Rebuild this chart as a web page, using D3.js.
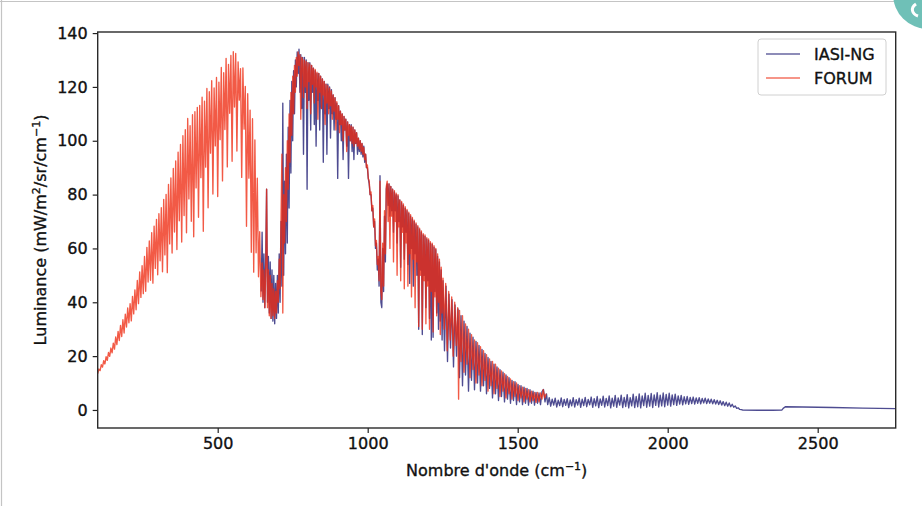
<!DOCTYPE html>
<html>
<head>
<meta charset="utf-8">
<style>
    body { margin: 0; background: #fff; }
    text { font-family: "DejaVu Sans", sans-serif; fill: #111; stroke: #111; stroke-width: 0.35px; }
    .tick line { stroke: #222; }
</style>
<script src="https://d3js.org/d3.v7.min.js"></script>
</head>
<body>
<script>

    // spectra: [wavenumber cm-1, luminance mW/m2/sr/cm-1]
    var forumFIR = [
      [100,13.5],[104,15.2],[108,14.6],[112,16.8],[116,15.9],[120,18.3],[124,17.1],[128,19.8],[132,18.4],[136,21.4],
      [140,19.9],[144,23],[148,21.2],[152,24.8],[156,22.6],[160,27.1],[164,24.3],[168,29.2],[172,25.8],[176,31.4],
      [180,27.3],[184,33.5],[188,28.6],[192,35.6],[196,30.8],[200,37.9],[204,32.4],[208,39.5],[212,33.1],[216,42.2],
      [220,35.7],[224,44.6],[228,37.2],[232,48.1],[236,39.5],[240,51.3],[244,41.8],[248,53.6],[252,43.2],[256,57],
      [260,44.1],[264,60.4],[268,47.5],[272,62.8],[276,48.2],[280,65.9],[284,47.1],[288,68.3],[292,52.6],[296,70.8],
      [300,50.2],[304,72.9],[308,55.4],[312,75.1],[316,51.3],[320,78.2],[324,57.6],[328,80.1],[332,51],[336,83.8],
      [340,61.7],[344,86.2],[348,58.3],[352,89.7],[356,66.1],[360,92.5],[364,59.6],[368,95.8],[372,70.3],[376,98.6],
      [380,62.4],[384,101.9],[388,72.2],[392,104.1],[396,65.8],[400,108.3],[404,78.4],[408,105.6],[412,70.1],[416,109.7],
      [420,64.3],[424,110.8],[428,82.5],[432,112.4],[436,71.6],[440,113.1],[444,86.3],[448,116.2],[452,66.4],[456,114.7],
      [460,90.2],[464,119.4],[468,75.1],[472,118.2],[476,95.4],[480,122.3],[484,80.2],[488,119.6],[492,98.1],[496,123.5],
      [500,79.3],[504,121.8],[508,100.4],[512,127.2],[516,85.1],[520,125.3],[524,104.2],[528,130.6],[532,90.3],[536,128.4],
      [540,110.2],[544,131.7],[548,92.4],[552,133.1],[556,112.5],[560,132.4],[564,96.2],[568,129.3],[572,115.1],[576,126.8],
      [580,86.4],[584,127.1],[588,104.3],[592,120.2],[596,68.2],[600,117.5],[604,86.1],[608,111.4],[612,58.6],[616,108.2],
      [620,51.2],[624,100.3],[628,58.4],[632,86.1],[636,49.5],[640,66.2],[644,42.1],[648,54.6]
    ];

    var forumCO2 = [
      [651,41],[654,52],[657,38],[660,50],[663,82],[666,38],[669,52],[672,35],[675,50],[678,34],
      [681,47],[684,35],[687,45],[690,34],[693,44],[696,36],[699,48],[702,40],[705,56],[708,45],
      [711,70],[714,95],[717,36],[720,80],[723,62],[726,90],[729,70],[732,100],[735,82],[738,110],
      [741,92],[744,118],[747,102],[750,124],[753,110],[756,128],[759,118],[762,131],[765,124],[768,133],
      [771,128],[774,132],[777,108],[780,131],[783,130],[786,116],[789,130],[792,120],[795,129.5],[798,112],
      [801,129],[804,122],[807,128.5],[810,110],[813,128],[816,121],[819,127],[822,114],[825,126.5],[828,120],
      [831,125.5],[834,108],[837,125],[840,118],[843,124],[846,112],[849,123],[852,117],[855,122],[858,106],
      [861,121],[864,114],[867,120.5],[870,110],[873,119.5],[876,113],[879,118.5],[882,108],[885,117],[888,111],
      [891,116],[894,104],[897,114.5],[900,108],[903,113],[906,103],[909,111],[912,106],[915,110],[918,100],
      [921,109],[924,104],[927,108],[930,96],[933,107],[936,102],[939,106],[942,100],[945,105.5],[948,99],
      [951,105],[954,98],[957,104],[960,99],[963,103],[966,98],[969,101],[972,97],[975,100],[978,96],
      [981,99],[984,95],[987,97.5],[990,93],[993,95],[996,90],[999,91],[1002,86],[1005,85],[1008,80],
      [1011,81],[1014,74],[1017,76],[1020,68],[1023,71],[1026,61],[1029,63],[1032,54],[1035,57],[1038,48],
      [1041,85],[1044,44],[1047,41],[1050,62],[1053,46],[1056,74],[1059,58],[1062,83],[1065,85]
    ];

    var forumH2O = [
      [1068,70],[1071,84],[1074,60],[1077,83],[1080,72],[1083,82],[1086,55],[1089,81.5],[1092,70],[1095,80.5],
      [1098,50],[1101,80],[1104,68],[1107,78],[1110,48],[1113,77.5],[1116,66],[1119,76.5],[1122,45],[1125,75.5],
      [1128,62],[1131,74.5],[1134,46],[1137,73.5],[1140,58],[1143,72.5],[1146,42],[1149,71.5],[1152,56],[1155,70.5],
      [1158,38],[1161,69.5],[1164,55],[1167,68.5],[1170,31],[1173,67.5],[1176,50],[1179,66.5],[1182,30],[1185,65.5],
      [1188,48],[1191,65],[1194,32],[1197,64],[1200,46],[1203,63.5],[1206,30],[1209,62.5],[1212,44],[1215,62],
      [1218,29],[1221,61],[1224,42],[1227,60],[1230,35],[1233,58],[1236,40],[1239,56],[1242,28],[1245,53],
      [1248,36],[1251,49],[1255,30],[1260,47],[1265,22],[1270,44],[1275,26],[1280,42],[1285,20],[1290,40],
      [1295,24],[1300,38],[1303,4],[1306,37],[1311,18],[1316,35],[1321,14],[1326,32],[1331,17],[1336,30],
      [1341,12],[1346,28],[1351,15],[1356,26],[1361,10],[1366,25],[1371,13],[1376,23.5],[1381,9],[1386,22],
      [1391,11],[1396,20.5],[1401,7],[1406,19],[1411,9],[1416,18],[1421,6],[1426,17],[1431,8],[1436,15.5],
      [1441,5],[1446,14.5],[1451,7],[1456,13.5],[1461,4.5],[1466,12.5],[1471,6],[1476,11.5],[1481,4],[1486,10.5],
      [1491,5],[1496,10],[1501,3.5],[1506,9],[1511,4.5],[1516,8.5],[1521,3],[1526,8],[1531,4],[1536,7.5],
      [1541,3],[1546,7],[1551,3.5],[1556,6.5],[1561,2.8],[1566,6.5],[1571,3],[1576,6.3],[1581,4],[1585,7.5],
      [1590,4.5],[1595,6]
    ];

    var iasiCO2 = [
      [645,44],[648,66],[651,40],[654,58],[657,38],[660,56],[663,82],[666,40],[669,57],[672,36],
      [675,55],[678,34],[681,52],[684,33],[687,50],[690,32],[693,47],[696,34],[699,50],[702,36],
      [705,58],[708,40],[711,70],[714,46],[717,114],[720,50],[723,85],[726,58],[729,95],[732,62],
      [735,105],[738,75],[741,115],[744,88],[747,122],[750,100],[753,126],[756,110],[759,130],[762,120],
      [765,133],[768,125],[771,134],[774,118],[777,132],[780,112],[783,131],[786,95],[789,131],[792,118],
      [795,130],[798,82],[801,129],[804,115],[807,129],[810,104],[813,128],[816,118],[819,127],[822,106],
      [825,126],[828,98],[831,125],[834,115],[837,125],[840,104],[843,124],[846,112],[849,123],[852,92],
      [855,122],[858,110],[861,121],[864,95],[867,121],[870,112],[873,120],[876,101],[879,119],[882,110],
      [885,117],[888,104],[891,116],[894,108],[897,114],[900,86],[903,113],[906,106],[909,111],[912,100],
      [915,110],[918,93],[921,109],[924,104],[927,108],[930,98],[933,107],[936,86],[939,106],[942,100],
      [945,106],[948,96],[951,105],[954,93],[957,104],[960,99],[963,103],[966,95],[969,101],[972,96],
      [975,100],[978,95],[981,99],[984,94],[987,98],[990,92],[993,95],[996,90],[999,90],[1002,86],
      [1005,84],[1008,80],[1011,80],[1014,74],[1017,75],[1020,68],[1023,70],[1026,60],[1029,62],[1032,52],
      [1035,56],[1038,46],[1041,87],[1044,40],[1047,38],[1050,60],[1053,44],[1056,72],[1059,55],[1062,82],
      [1065,84]
    ];

    var iasiH2O = [
      [1068,76],[1071,84],[1074,72],[1077,83],[1080,74],[1083,82],[1086,66],[1089,81],[1092,74],[1095,80],
      [1098,62],[1101,79.5],[1104,70],[1107,78],[1110,53],[1113,77],[1116,68],[1119,76],[1122,56],[1125,75],
      [1128,66],[1131,74],[1134,54],[1137,73],[1140,47],[1143,72],[1146,60],[1149,71],[1152,46],[1155,70],
      [1158,58],[1161,69],[1164,50],[1167,68],[1170,30],[1173,67],[1176,52],[1179,66],[1182,28],[1185,65],
      [1188,50],[1191,64.5],[1194,38],[1197,63.5],[1200,48],[1203,63],[1206,34],[1209,62],[1212,26],[1215,61.5],
      [1218,27],[1221,60.5],[1224,44],[1227,59.5],[1230,36],[1233,57],[1236,30],[1239,55],[1242,33],[1245,52],
      [1248,26],[1251,48],[1256,22],[1261,46],[1266,18],[1271,43],[1276,23],[1281,41],[1286,16],[1291,39],
      [1296,20],[1301,37.5],[1306,12],[1311,35],[1316,9],[1321,33],[1326,13],[1331,31],[1336,7],[1341,28.5],
      [1346,11],[1351,27],[1356,7.5],[1361,25.5],[1366,10],[1371,24],[1376,7],[1381,22.5],[1386,9],[1391,21],
      [1396,6],[1401,19.5],[1406,8],[1411,18],[1416,4.5],[1421,17],[1426,6],[1431,16],[1436,3.5],[1441,15],
      [1446,5],[1451,14],[1456,3],[1461,13],[1466,4],[1471,12],[1476,2.5],[1481,11],[1486,3.5],[1491,10.5],
      [1496,2],[1501,9.5],[1506,3],[1511,9],[1516,2],[1521,8.5],[1526,2.5],[1531,8],[1536,1.8],[1541,7.5],
      [1546,2.5],[1551,7],[1556,1.8],[1561,6.5],[1566,2.5],[1571,6.3],[1576,2],[1581,6.8],[1586,7.6],[1591,3],
      [1596,6]
    ];

    var iasiSW = [
      [1600,2],[1605,4.6],[1610,1.4],[1615,4],[1620,1.8],[1625,4.4],[1630,1.1],[1635,3.6],[1640,1.6],[1645,4.5],
      [1650,1.2],[1655,3.9],[1660,1.7],[1665,4.2],[1670,0.9],[1675,3.7],[1680,1.5],[1685,4.6],[1690,1.1],[1695,3.8],
      [1700,1.8],[1705,4.4],[1710,1],[1715,4],[1720,1.6],[1725,4.7],[1730,1.2],[1735,3.9],[1740,1.9],[1745,4.8],
      [1750,1],[1755,4.2],[1760,1.5],[1765,5],[1770,0.9],[1775,4.1],[1780,1.7],[1785,5.1],[1790,1.1],[1795,4.3],
      [1800,1.6],[1805,5.2],[1810,0.8],[1815,4.4],[1820,1.4],[1825,5.4],[1830,1],[1835,4.5],[1840,1.8],[1845,5.5],
      [1850,0.9],[1855,4.7],[1860,1.3],[1865,5.7],[1870,0.8],[1875,4.6],[1880,1.5],[1885,5.9],[1890,0.9],[1895,5],
      [1900,1.2],[1905,6],[1910,0.8],[1915,5.2],[1920,1.6],[1925,6.2],[1930,1],[1935,5.4],[1940,1.4],[1945,6.1],
      [1950,0.9],[1955,5.6],[1960,1.7],[1965,6.4],[1970,1.1],[1975,5.5],[1980,1.5],[1985,6.3],[1990,1.2],[1995,5.8],
      [2000,1.8],[2005,6.2],[2010,1.4],[2015,5.6],[2020,2],[2025,5.9],[2030,1.7],[2035,5.2],[2040,2.2],[2045,5.4],
      [2050,1.9],[2055,4.9],[2060,2.3],[2065,5],[2070,2.1],[2075,4.7],[2080,2.4],[2085,4.8],[2090,2.2],[2095,4.5],
      [2100,2.5],[2105,4.6],[2110,2.3],[2115,4.3],[2120,2.6],[2125,4.4],[2130,2.4],[2135,4.1],[2140,2.5],[2145,4],
      [2150,2.3],[2155,3.8],[2160,2.2],[2165,3.6],[2170,2],[2175,3.4],[2180,1.8],[2185,3.1],[2190,1.6],[2195,2.9],
      [2200,1.4],[2205,2.6],[2210,1.2],[2215,2.1],[2220,1],[2225,1.5],[2230,0.6],[2235,0.8],[2240,0.2],[2245,0.1],
      [2250,0],[2300,-0.1],[2350,-0.1],[2381,0],[2385,0.6],[2392,1.2],[2450,1.1],[2550,0.9],[2650,0.7],[2760,0.5]
    ];

    var seriesNames = ["IASI-NG", "FORUM"];
    var seriesColors = ["#1c1a72", "#ee2c12"];
    var xTicks = [500, 1000, 1500, 2000, 2500];
    var yTicks = [0, 20, 40, 60, 80, 100, 120, 140];

    var iasi = iasiCO2.concat(iasiH2O, iasiSW);
    var forum = forumFIR.concat(forumCO2, forumH2O);

    var width = 922, height = 506;
    var margin = {left: 97.7, right: 26.3, top: 32, bottom: 78};

    var svg = d3.select("body").append("svg")
        .attr("width", width)
        .attr("height", height);

    // page frame and corner badge from the magazine scan
    svg.append("line").attr("x1", 0).attr("x2", 900).attr("y1", 1.5).attr("y2", 1.5)
        .attr("stroke", "#c4c4c4").attr("stroke-width", 1.2);
    svg.append("line").attr("x1", 1.5).attr("x2", 1.5).attr("y1", 0).attr("y2", height)
        .attr("stroke", "#c4c4c4").attr("stroke-width", 1.2);
    svg.append("circle").attr("cx", 928).attr("cy", -6).attr("r", 35).attr("fill", "#6fc0b7");
    svg.append("path").attr("d", "M916,4 C910,8 912,14 918,16")
        .attr("fill", "none").attr("stroke", "#fff").attr("stroke-width", 3);

    var x = d3.scaleLinear().domain([100, 2760]).range([margin.left, width - margin.right]);
    var y = d3.scaleLinear().domain([-6.7, 140.4]).range([height - margin.bottom, margin.top]);

    var line = d3.line()
        .x(function(d) { return x(d[0]); })
        .y(function(d) { return y(d[1]); });

    var plot = svg.append("g");

    [iasi, forum].forEach(function(s, i) {
        plot.append("path")
          .datum(s)
          .attr("d", line)
          .attr("fill", "none")
          .attr("stroke", seriesColors[i])
          .attr("stroke-opacity", 0.78)
          .attr("stroke-width", 1.35)
          .attr("stroke-linejoin", "round");
    });

    // axes
    var xAxis = svg.append("g")
        .attr("transform", "translate(0," + (height - margin.bottom) + ")")
        .call(d3.axisBottom(x).tickValues(xTicks).tickSize(5).tickPadding(5).tickFormat(d3.format("d")));
    var yAxis = svg.append("g")
        .attr("transform", "translate(" + margin.left + ",0)")
        .call(d3.axisLeft(y).tickValues(yTicks).tickSize(5).tickPadding(5).tickFormat(d3.format("d")));
    xAxis.select(".domain").remove();
    yAxis.select(".domain").remove();
    svg.selectAll(".tick text").style("font-size", "16px").attr("fill", "#111");
    svg.selectAll(".tick line").attr("stroke-width", 1.2);

    svg.append("rect")
        .attr("x", margin.left).attr("y", margin.top)
        .attr("width", width - margin.left - margin.right)
        .attr("height", height - margin.top - margin.bottom)
        .attr("fill", "none").attr("stroke", "#2a2a2a").attr("stroke-width", 1.4);

    // axis labels
    var xl = svg.append("text")
        .attr("x", (margin.left + width - margin.right) / 2)
        .attr("y", 476)
        .attr("text-anchor", "middle")
        .style("font-size", "16px");
    xl.append("tspan").text("Nombre d'onde (cm");
    xl.append("tspan").attr("dy", -6).style("font-size", "11px").text("\u22121");
    xl.append("tspan").attr("dy", 6).text(")");

    var yl = svg.append("text")
        .attr("transform", "translate(46," + ((margin.top + height - margin.bottom) / 2) + ") rotate(-90)")
        .attr("text-anchor", "middle")
        .style("font-size", "16px");
    yl.append("tspan").text("Luminance (mW/m");
    yl.append("tspan").attr("dy", -6).style("font-size", "11px").text("2");
    yl.append("tspan").attr("dy", 6).text("/sr/cm");
    yl.append("tspan").attr("dy", -6).style("font-size", "11px").text("\u22121");
    yl.append("tspan").attr("dy", 6).text(")");

    // legend
    var lg = svg.append("g");
    lg.append("rect")
        .attr("x", 758).attr("y", 39).attr("width", 128).attr("height", 56).attr("rx", 3)
        .attr("fill", "#fff").attr("fill-opacity", 0.8)
        .attr("stroke", "#d0d0d0");
    seriesNames.forEach(function(n, i) {
        var yy = 54 + i * 24;
        lg.append("line")
          .attr("x1", 766).attr("x2", 800).attr("y1", yy).attr("y2", yy)
          .attr("stroke", seriesColors[i]).attr("stroke-opacity", 0.5).attr("stroke-width", 2);
        lg.append("text")
          .attr("x", 814).attr("y", yy + 6)
          .style("font-size", "16px")
          .text(n);
    });

</script>
</body>
</html>
